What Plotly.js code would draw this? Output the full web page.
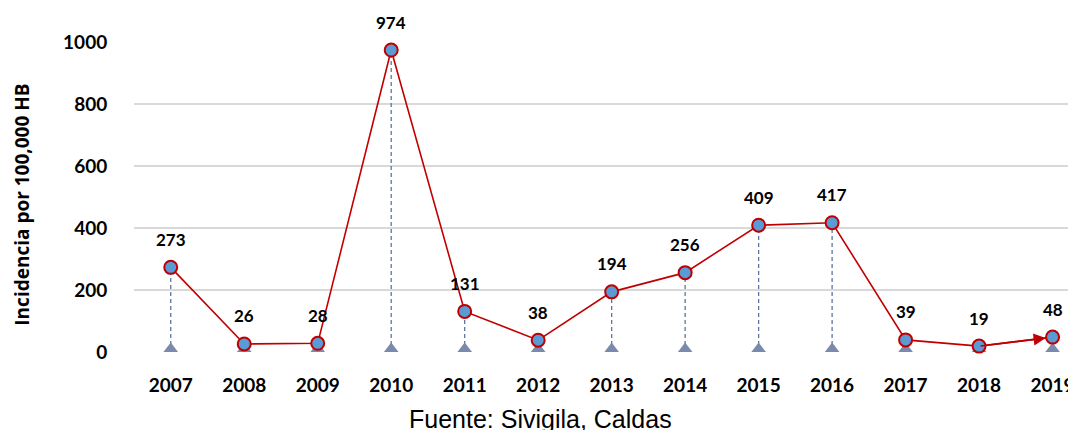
<!DOCTYPE html>
<html>
<head>
<meta charset="utf-8">
<script src="https://cdn.plot.ly/plotly-3.0.1.min.js"></script>
<style>html,body{margin:0;padding:0;background:#fff;}#chart{width:1068px;height:430px;}</style>
</head>
<body>
<div id="chart"></div>
<script>
const years = ['2007','2008','2009','2010','2011','2012','2013','2014','2015','2016','2017','2018','2019'];
const incidence = [273, 26, 28, 974, 131, 38, 194, 256, 409, 417, 39, 19, 48];
const yTicks = [0, 200, 400, 600, 800, 1000];
const zeros = years.map(() => 0);

const fontFam = 'Lato, "Open Sans", "Liberation Sans", sans-serif';

// dashed drop lines
const dropX = [], dropY = [];
years.forEach((y, i) => { dropX.push(y, y, null); dropY.push(0, incidence[i], null); });

const traces = [
  { x: dropX, y: dropY, mode: 'lines', line: {color: '#5f74a0', width: 1.3, dash: '4px,3px'}, hoverinfo: 'skip', showlegend: false },
  { x: years, y: zeros, mode: 'markers', marker: {symbol: 'triangle-up', size: 19, color: '#7a8aad'}, cliponaxis: true, hoverinfo: 'skip', showlegend: false },
  { x: years, y: incidence, mode: 'lines+markers', line: {color: '#c00000', width: 1.6},
    marker: {size: 13, color: '#5b9bd5', line: {color: '#c00000', width: 2}}, cliponaxis: false, showlegend: false }
];

const annotations = years.map((y, i) => ({
  x: i, y: incidence[i], xref: 'x', yref: 'y', text: String(incidence[i]), showarrow: false, yshift: 28,
  font: {family: fontFam, size: 17, color: '#000', weight: 700}
}));
annotations.push({
  x: 12, y: incidence[12], ax: 11, ay: incidence[11], axref: 'x', ayref: 'y',
  xref: 'x', yref: 'y', showarrow: true, arrowhead: 2, arrowsize: 1.5, arrowwidth: 1.6,
  arrowcolor: '#c00000', standoff: 7, text: ''
});
annotations.push({
  text: 'Fuente: Sivigila, Caldas', xref: 'paper', yref: 'paper', x: 0.4347, y: -0.215,
  xanchor: 'center', yanchor: 'middle', showarrow: false,
  font: {family: 'Liberation Sans, Arial, sans-serif', size: 25, color: '#000'}
});
annotations.push({
  text: 'Incidencia por 100,000 HB', xref: 'paper', yref: 'paper', x: -0.12, y: 0.475,
  xanchor: 'center', yanchor: 'middle', textangle: -90, showarrow: false,
  font: {family: '"Open Sans", Lato, sans-serif', size: 19, color: '#000', weight: 700}
});

const layout = {
  width: 1068, height: 430,
  margin: {l: 134, r: 0, t: 42, b: 78},
  paper_bgcolor: '#fff', plot_bgcolor: '#fff',
  showlegend: false,
  xaxis: {
    type: 'category', range: [-0.5, 12.21], showgrid: false, zeroline: false, showline: false,
    ticks: 'outside', ticklen: 16, tickcolor: 'rgba(0,0,0,0)',
    tickfont: {family: fontFam, size: 19, color: '#000', weight: 700}
  },
  yaxis: {
    range: [0, 1000], tickvals: yTicks, ticktext: yTicks.map(String),
    showgrid: true, gridcolor: '#d9d9d9', gridwidth: 1.5, zeroline: false, showline: false,
    ticks: 'outside', ticklen: 22, tickcolor: 'rgba(0,0,0,0)',
    tickfont: {family: fontFam, size: 19, color: '#000', weight: 700}
  },
  annotations: annotations
};

Plotly.newPlot('chart', traces, layout, {displayModeBar: false, staticPlot: true});
</script>
</body>
</html>
